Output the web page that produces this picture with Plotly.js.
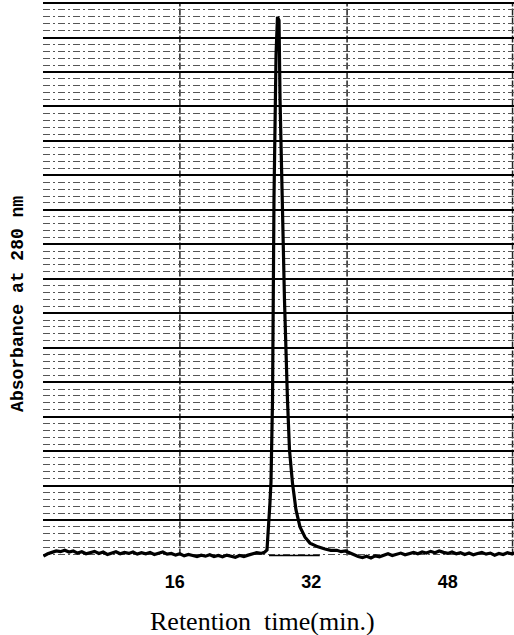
<!DOCTYPE html>
<html>
<head>
<meta charset="utf-8">
<script src="https://cdn.plot.ly/plotly-3.0.1.min.js"></script>
<style>html,body{margin:0;padding:0;background:#fff;}#chart{width:514px;height:635px;}</style>
</head>
<body>
<div id="chart"></div>
<script>
// Retention time (min) and absorbance (arbitrary chart-paper units)
const retentionTime = [
  0.6,1.1,1.6,2.1,2.6,3.1,3.6,4.1,4.6,5.1,5.6,6.1,6.6,7.1,7.6,8.1,8.6,9.1,9.6,10.1,
  10.6,11.1,11.6,12.1,12.6,13.1,13.6,14.1,14.6,15.1,15.6,16.1,16.6,17.1,17.6,18.1,18.6,19.1,19.6,20.1,
  20.6,21.1,21.6,22.1,22.6,23.1,23.6,24.1,24.6,25.1,25.6,26.1,26.5,
  26.81,26.93,27.05,27.16,27.28,27.46,27.63,27.87,28.04,28.22,28.34,28.57,28.86,29.21,29.45,29.80,
  30.21,30.68,31.27,31.85,32.4,32.79,33.61,34.3,
  35.0,35.5,36.0,36.5,37.0,37.5,38.0,38.5,39.0,39.5,40.0,40.5,41.0,41.5,42.0,42.5,43.0,43.5,44.0,44.5,
  45.0,45.5,46.0,46.5,47.0,47.5,48.0,48.5,49.0,49.5,50.0,50.5,51.0,51.5,52.0,52.5,53.0,53.5,54.0,54.5,
  55.0,55.5,55.8
];
const absorbance = [
  -0.05,0.02,0.06,0.1,0.08,0.12,0.07,0.1,0.04,0.08,0.02,0.06,0.09,0.03,0.07,0.0,0.05,0.08,0.02,0.06,
  0.03,0.07,0.01,0.05,0.02,0.06,0.0,0.04,0.07,0.01,0.03,-0.02,0.02,-0.04,0.0,-0.03,-0.06,-0.02,-0.05,-0.01,
  -0.06,-0.03,-0.07,-0.02,-0.05,-0.08,-0.03,-0.06,-0.02,0.02,0.05,0.03,0.06,
  0.13,0.5,1.0,1.5,2.1,4.5,10.3,14.5,15.6,15.5,13.2,10.3,7.4,4.5,3.03,2.07,
  1.29,0.8,0.5,0.33,0.27,0.22,0.16,0.12,
  0.12,0.08,0.1,0.04,-0.02,-0.06,-0.09,-0.05,-0.1,-0.04,-0.07,-0.02,0.02,-0.03,0.01,0.04,-0.01,0.03,0.06,0.02,
  0.07,0.04,0.09,0.05,0.1,0.06,0.03,0.07,0.02,0.05,0.0,0.04,-0.01,0.03,0.06,0.01,0.04,-0.02,0.03,0.0,
  0.05,0.02,0.04
];
// integrator baseline drawn under the peak
const integratorTime = [27.05, 33.0];
const integratorAbs = [-0.03, -0.03];
// chart-paper vertical rulings (min)
const paperVerticals = [16.6, 36.2, 55.6];
// major horizontal rulings
const paperHorizontals = [1,2,3,4,5,6,7,8,9,10,11,12,13,14,15,16];
const xTickVals = [16, 32, 48];
const xTickText = ['16', '32', '48'];

const traces = [
  {x: retentionTime, y: absorbance, type: 'scatter', mode: 'lines',
   line: {color: '#000', width: 3.2}, hoverinfo: 'skip'},
  {x: integratorTime, y: integratorAbs, type: 'scatter', mode: 'lines',
   line: {color: '#000', width: 1.4}, hoverinfo: 'skip'}
];

const shapes = paperVerticals.map(v => ({
  type: 'line', xref: 'x', yref: 'paper', x0: v, x1: v, y0: 0.01, y1: 1,
  line: {color: '#222', width: 1.5, dash: '7px,2px'}, layer: 'below'
}));

const layout = {
  width: 514, height: 635,
  margin: {l: 43, r: 0, t: 2, b: 74},
  paper_bgcolor: '#fff', plot_bgcolor: '#fff',
  showlegend: false,
  xaxis: {
    range: [0.55, 55.77], tickmode: 'array', tickvals: xTickVals, ticktext: xTickText,
    showgrid: false, zeroline: false, showline: false, ticks: '',
    ticklabelstandoff: 8,
    tickfont: {family: 'Liberation Sans, Arial, sans-serif', size: 18, color: '#000', weight: 700}
  },
  yaxis: {
    range: [-0.19, 16.03], tickmode: 'array', tickvals: paperHorizontals,
    showticklabels: false, ticks: '', zeroline: false, showline: false,
    showgrid: true, gridcolor: '#000', gridwidth: 2,
    minor: {tick0: 0, dtick: 0.2, showgrid: true, gridcolor: '#555', gridwidth: 1, griddash: '7px,3px,2px,3px', ticks: ''}
  },
  shapes: shapes,
  annotations: [
    {text: 'Retention&nbsp;&nbsp;time(min.)', xref: 'paper', yref: 'paper', x: 0.467, y: -0.109,
     xanchor: 'center', yanchor: 'middle', showarrow: false,
     font: {family: 'Liberation Serif, Times New Roman, serif', size: 26, color: '#000'}},
    {text: 'Absorbance at 280 nm', xref: 'paper', yref: 'paper', x: -0.053, y: 0.46,
     xanchor: 'center', yanchor: 'middle', showarrow: false, textangle: -90,
     font: {family: 'Liberation Mono, Courier New, monospace', size: 18, color: '#000', weight: 700}}
  ]
};

Plotly.newPlot('chart', traces, layout, {displayModeBar: false, staticPlot: true});
</script>
</body>
</html>
